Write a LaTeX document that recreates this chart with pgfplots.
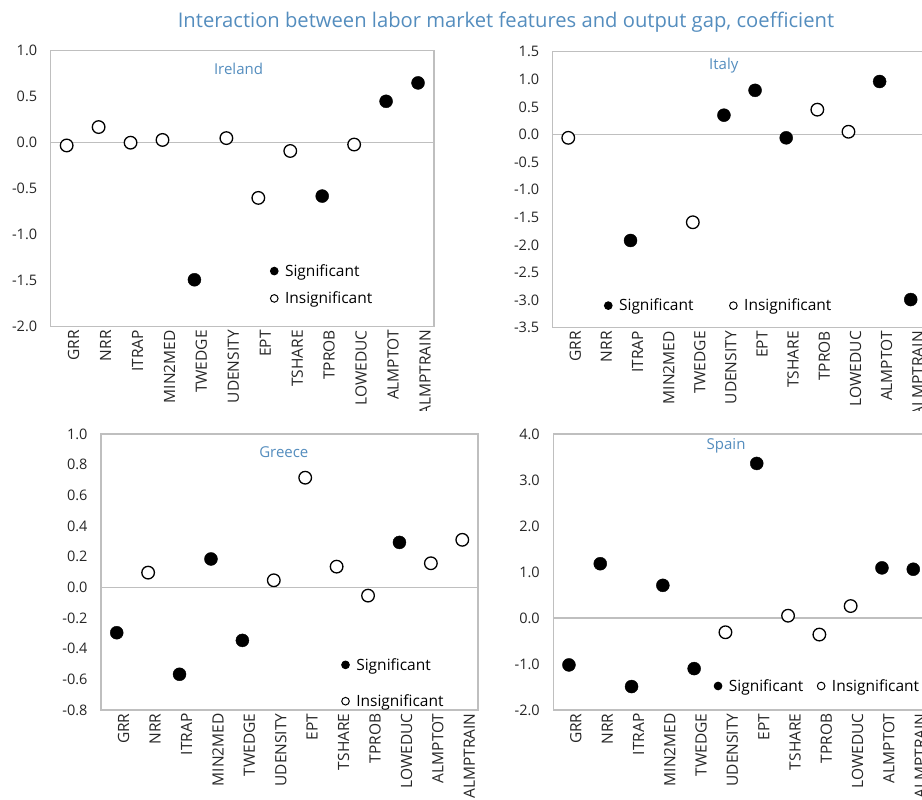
\documentclass[border=0pt]{standalone}
\usepackage{pgfplots}
\pgfplotsset{compat=1.18}
\usepackage{fontspec}
\setmainfont{Open Sans}
\definecolor{ttl}{RGB}{84,141,190}
\definecolor{frame}{RGB}{191,191,191}
\definecolor{tk}{RGB}{38,38,38}
\pgfplotsset{
  panel/.style={
    scale only axis, height=276pt,
    xmin=-0.5, xmax=11.5,
    xtick={0,...,11},
    xticklabels={GRR,NRR,ITRAP,MIN2MED,TWEDGE,UDENSITY,EPT,TSHARE,TPROB,LOWEDUC,ALMPTOT,ALMPTRAIN},
    x tick label style={rotate=90, anchor=east, font=\fontsize{15.5}{16}\selectfont, text=tk, yshift=-7pt},
    y tick label style={font=\fontsize{14.5}{15}\selectfont, text=tk, xshift=-10pt},
    yticklabel style={/pgf/number format/.cd, fixed, fixed zerofill, precision=1, assume math mode=true},
    axis line style={frame, line width=1.3pt},
    major tick length=0pt,
    extra y ticks={0}, extra y tick labels={},
    extra y tick style={grid=major, major grid style={frame, line width=1.3pt}},
    clip=false,
    legend style={draw=none, fill=none, font=\fontsize{15.5}{16}\selectfont, text=black,
      nodes={inner sep=2pt},
      /tikz/every odd column/.append style={column sep=5pt}},
    legend cell align=left,
  },
  sig/.style={only marks, mark=*, mark size=6.5pt, black, mark options={fill=black}},
  ins/.style={only marks, mark=*, mark size=6.3pt, black, line width=1.3pt, mark options={fill=white}},
  legend image code/.code={\draw[#1,mark size=3.8pt,line width=1pt] plot coordinates {(0pt,0pt)};},
}
\begin{document}
\begin{tikzpicture}
\path[use as bounding box] (0pt,0pt) rectangle (922pt,-800pt);
\node[font=\fontsize{20.2}{21}\selectfont, text=ttl] at (506pt,-22pt) {Interaction between labor market features and output gap, coefficient};

% Ireland
\begin{axis}[panel, at={(50.7pt,-326.7pt)}, anchor=south west, width=383.3pt,
  ymin=-2, ymax=1, ytick={-2,-1.5,...,1},
  legend style={at={(0.565,0.241)}, anchor=north west, row sep=10pt}]
\addplot[sig] coordinates {(4,-1.49) (8,-0.58) (10,0.45) (11,0.65)};
\addplot[ins] coordinates {(0,-0.03) (1,0.17) (2,0.0) (3,0.03) (5,0.05) (6,-0.60) (7,-0.09) (9,-0.02)};
\legend{Significant,Insignificant}
\node[font=\fontsize{15}{15}\selectfont, text=ttl] at (rel axis cs:0.49,0.935) {Ireland};
\end{axis}

% Italy
\begin{axis}[panel, at={(552.7pt,-327.7pt)}, anchor=south west, width=373.6pt,
  ymin=-3.5, ymax=1.5, ytick={-3.5,-3,...,1.5},
  legend columns=2,
  legend style={at={(0.13,0.08)}, anchor=west, /tikz/every even column/.append style={column sep=34pt}}]
\addplot[sig] coordinates {(2,-1.92) (5,0.35) (6,0.80) (7,-0.06) (10,0.96) (11,-2.99)};
\addplot[ins] coordinates {(0,-0.06) (4,-1.59) (8,0.45) (9,0.05)};
\legend{Significant,Insignificant}
\node[font=\fontsize{15}{15}\selectfont, text=ttl] at (rel axis cs:0.458,0.949) {Italy};
\end{axis}

\fill[white] (-10pt,-411pt) rectangle (940pt,-810pt);

% Greece
\begin{axis}[panel, at={(101pt,-710pt)}, anchor=south west, width=377pt,
  ymin=-0.8, ymax=1, ytick={-0.8,-0.6,...,1.01},
  legend style={at={(0.63,0.203)}, anchor=north west, row sep=19pt}]
\addplot[sig] coordinates {(0,-0.296) (2,-0.567) (3,0.185) (4,-0.346) (9,0.293)};
\addplot[ins] coordinates {(1,0.096) (5,0.046) (6,0.715) (7,0.135) (8,-0.054) (10,0.157) (11,0.31)};
\legend{Significant,Insignificant}
\node[font=\fontsize{15}{15}\selectfont, text=ttl] at (rel axis cs:0.485,0.935) {Greece};
\end{axis}

% Spain
\begin{axis}[panel, at={(553.3pt,-710pt)}, anchor=south west, width=375.6pt,
  ymin=-2, ymax=4, ytick={-2,-1,...,4},
  legend columns=2,
  legend style={at={(0.42,0.087)}, anchor=west, /tikz/every even column/.append style={column sep=12pt}}]
\addplot[sig] coordinates {(0,-1.02) (1,1.18) (2,-1.49) (3,0.71) (4,-1.10) (6,3.36) (10,1.09) (11,1.06)};
\addplot[ins] coordinates {(5,-0.31) (7,0.05) (8,-0.36) (9,0.26)};
\legend{Significant,Insignificant}
\node[font=\fontsize{15}{15}\selectfont, text=ttl] at (rel axis cs:0.46,0.957) {Spain};
\end{axis}
\end{tikzpicture}
\end{document}
